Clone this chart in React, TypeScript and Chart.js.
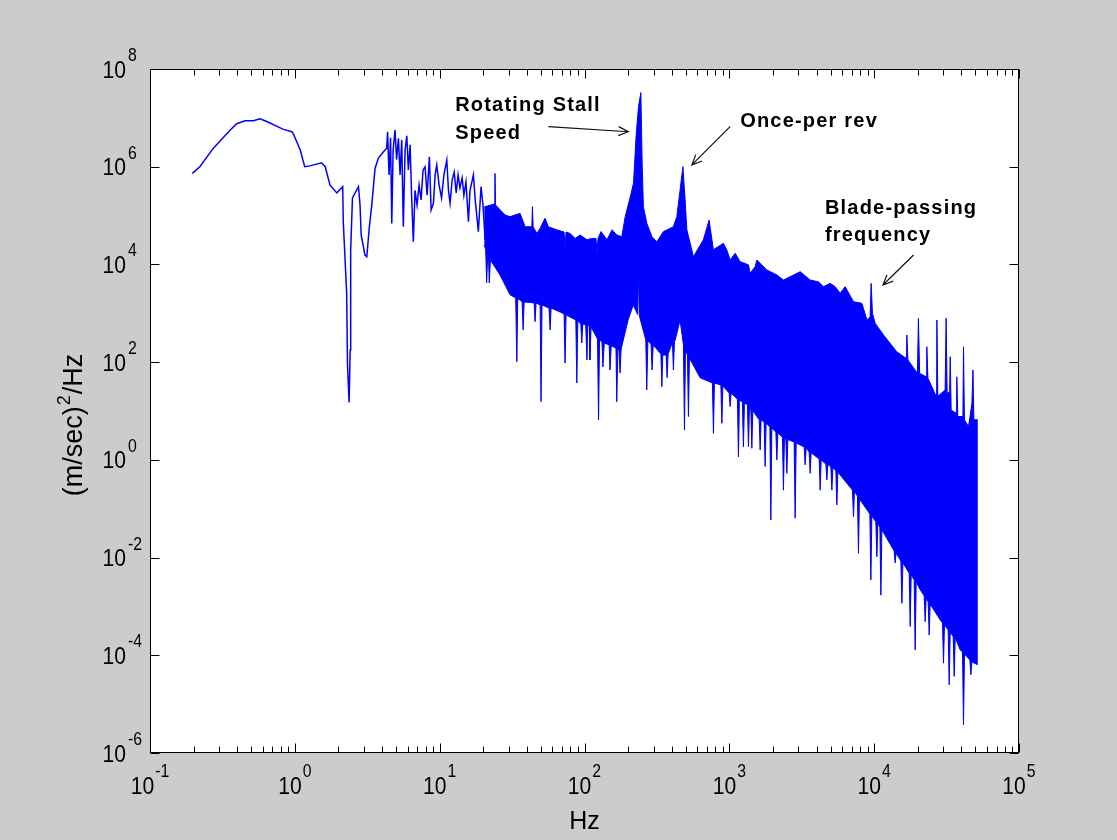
import React, { useEffect, useRef } from "react";
import { Chart, registerables } from "chart.js";

Chart.register(...registerables);

// ---- Low-frequency trace (Hz, (m/sec)^2/Hz) ----
const lowHz = [
  0.196, 0.221, 0.274, 0.357, 0.397, 0.453, 0.517, 0.575, 0.64, 0.834,
  0.953, 0.977, 1.09, 1.17, 1.27, 1.53, 1.62, 1.75, 1.95, 2.05,
  2.14, 2.16, 2.28, 2.31, 2.37, 2.41, 2.43, 2.5, 2.75, 2.82,
  2.87, 3.05, 3.14, 3.27, 3.4, 3.58, 3.78, 4.08, 4.31, 4.37,
  4.47, 4.58, 4.67, 4.77, 4.92, 5.04, 5.19, 5.33, 5.47, 5.61,
  5.77, 5.93, 6.08, 6.25, 6.4, 6.58, 6.76, 6.98, 7.21, 7.44,
  7.68, 7.93, 8.19, 8.49, 8.73, 9.06, 9.3, 9.55, 9.91, 10.3,
  10.7, 11.2, 11.5, 11.8, 12.2, 12.6, 13.0, 13.4, 13.8, 14.3,
  14.7, 15.2, 15.8, 16.2, 17.1, 17.6, 18.5, 19.3, 19.9, 20.6,
];
const lowPsd = [
  7.3e5, 1.0e6, 2.4e6, 5.6e6, 7.6e6, 8.7e6, 8.7e6, 9.6e6, 8.4e6, 5.8e6,
  5.2e6, 4.7e6, 2.2e6, 1.0e6, 1.04e6, 1.2e6, 1.0e6, 4.2e5, 2.9e5, 3.4e5,
  3.9e5, 7.5e4, 2.6e3, 87, 15, 178, 2.0e4, 2.3e5, 3.9e5, 1.65e5,
  4.0e4, 1.55e4, 1.44e4, 5.9e4, 1.65e5, 9.3e5, 1.5e6, 2.0e6, 2.4e6, 5.2e6,
  6.8e5, 3.9e6, 6.9e4, 2.2e6, 5.6e6, 1.4e6, 3.8e6, 6.8e5, 3.5e6, 5.9e4,
  2.2e6, 4.3e6, 8.6e5, 2.8e6, 2.6e5, 2.9e4, 3.3e5, 1.65e5, 4.2e5, 2.1e5,
  8.6e5, 1.0e6, 2.6e5, 1.6e6, 1.3e5, 1.8e5, 6.8e5, 1.09e6, 4.2e5, 2.3e5,
  6.8e5, 1.37e6, 3.3e5, 1.8e5, 5.4e5, 7.8e5, 2.9e5, 6.8e5, 3.7e5, 5.9e5,
  2.6e5, 4.9e5, 7.5e4, 3.3e5, 6.8e5, 2.1e5, 4.7e4, 3.9e5, 1.65e5, 3.2e4,
];

// ---- Dense band: upper edge ----
const upperHz = [
  20.3, 23.9, 24.1, 24.3, 28.3, 30.6, 35.9, 38.9, 43.3, 43.7,
  44.2, 46.9, 49.4, 53.4, 56.3, 64.4, 72.3, 73.4, 74.6, 79.6,
  86.1, 93.3, 104, 112, 120, 122, 124, 130, 143, 155,
  167, 181, 191, 207, 218, 227, 236, 245, 250, 255,
  269, 292, 316, 351, 411, 434, 457, 478, 495, 509,
  565, 662, 725, 776, 910, 961, 1013, 1097, 1187, 1355,
  1392, 1507, 1549, 1816, 2128, 2364, 2630, 3083, 3614, 4125,
  4465, 4966, 5379, 5826, 6306, 7197, 8226, 8913, 9376, 9530,
  9730, 10160, 11600, 14300, 16600, 16800, 17100, 19900, 20200, 20600,
  22900, 23100, 23500, 26800, 27100, 27500, 30900, 31400, 31900, 33200,
  33500, 34000, 36800, 37200, 37800, 41000, 41400, 42000, 44800, 47300,
  48100, 48800, 52000,
];
const upperPsd = [
  1.5e5, 1.73e5, 7.3e5, 1.65e5, 1.03e5, 9.5e4, 1.11e5, 5.9e4, 5.9e4, 1.52e5,
  5.9e4, 4.3e4, 5.5e4, 8.8e4, 5.9e4, 5.1e4, 4.6e4, 2.1e4, 4.6e4, 4.3e4,
  3.4e4, 4.0e4, 3.2e4, 3.4e4, 3.4e4, 1.7e4, 3.4e4, 4.7e4, 3.2e4, 5.1e4,
  4.0e4, 3.7e4, 9.5e4, 2.4e5, 4.6e5, 4.1e6, 1.7e7, 3.3e7, 1.18e6, 1.52e5,
  7.0e4, 3.7e4, 2.9e4, 4.7e4, 5.9e4, 9.5e4, 3.3e5, 1.0e6, 2.1e5, 5.1e4,
  1.44e4, 3.2e4, 8.1e4, 2.0e4, 2.7e4, 1.98e4, 1.23e4, 1.69e4, 1.14e4, 9.8e3,
  6.6e3, 9.0e3, 1.23e4, 7.7e3, 6.1e3, 4.8e3, 5.6e3, 7.1e3, 4.8e3, 4.4e3,
  3.5e3, 4.1e3, 3.5e3, 2.57e3, 3.5e3, 1.73e3, 1.6e3, 730, 853, 4.1e3,
  1.0e3, 625, 360, 164, 120, 360, 111, 59, 791, 59,
  50, 207, 47, 20, 730, 20, 27, 791, 23, 24.5,
  129, 10.5, 9.0, 50, 7.7, 7.7, 207, 6.6, 4.8, 14,
  69, 6.6, 6.6,
];

// ---- Dense band: lower edge ----
const lowerHz = [
  20.3, 20.8, 21.1, 21.5, 21.7, 22.0, 22.4, 26.1, 30.6, 33.5,
  34.1, 34.6, 35.9, 37.1, 37.7, 38.3, 44.9, 45.6, 46.3, 49.4,
  50.1, 50.9, 56.9, 57.9, 58.8, 67.9, 72.3, 73.4, 74.6, 87.1,
  88.5, 89.9, 94.3, 95.8, 97.3, 102, 104, 105.4, 108, 109,
  111, 123, 125, 127, 132, 134, 137, 148, 150, 153,
  165, 167, 170, 173, 176, 179, 200, 217, 232.6, 235.6,
  239, 265, 269, 274, 288, 293, 298, 337, 342, 347,
  366, 372, 378, 405, 411, 418, 423, 457, 482, 490,
  498, 514, 522, 530, 628, 764, 777, 789, 874, 888,
  902, 997, 1013, 1029, 1137, 1156, 1174, 1231, 1251, 1272,
  1334, 1355, 1377, 1408, 1430, 1453, 1607, 1632, 1658, 1739,
  1767, 1795, 1905, 1935, 1966, 2095, 2128, 2162, 2243, 2327,
  2364, 2402, 2456, 2495, 2535, 2803, 2847, 2893, 3285, 3338,
  3391, 3557, 3614, 3672, 4172, 4238, 4306, 4640, 4714, 4788,
  5023, 5104, 5186, 5439, 5526, 5615, 5826, 7084, 7197, 7311,
  7667, 7790, 7915, 8003, 9340, 9489, 9641, 10270, 10440, 10600,
  10950, 11130, 11300, 13740, 13960, 14190, 15290, 15540, 15790, 17450,
  17730, 18010, 18890, 19190, 19500, 20780, 22150, 22500, 22860, 23600,
  23980, 24360, 28570, 29630, 30110, 30590, 32430, 32960, 33490, 35130,
  35690, 36260, 39260, 40730, 41380, 42040, 45800, 46540, 47290, 52000,
];
const lowerPsd = [
  2.5e4, 2.0e4, 4.2e3, 1.8e4, 1.64e4, 4.2e3, 1.23e4, 6.1e3, 2.4e3, 2.06e3,
  102, 1.96e3, 1.87e3, 1.71e3, 456, 1.71e3, 1.63e3, 673, 1.63e3, 1.48e3,
  15.5, 1.48e3, 1.28e3, 456, 1.28e3, 1.06e3, 968, 96, 924, 730,
  37.5, 697, 600, 247, 600, 577, 111, 577, 550, 111,
  525, 298, 6.6, 284, 259, 80, 247, 225, 69, 214,
  195, 15.5, 186, 178, 60, 186, 730, 1.48e3, 950, 7.7e3,
  900, 284, 27, 271, 236, 69, 225, 147, 31.5, 140,
  140, 48, 147, 255, 69, 270, 284, 730, 225, 4.1,
  178, 140, 7.7, 122, 48, 37.5, 3.5, 37.5, 34, 5.6,
  32.5, 23.4, 12.3, 23, 17.6, 1.16, 16.8, 15.3, 1.86, 14.8,
  13.3, 1.86, 12.7, 10.5, 1.73, 10.2, 6.6, 1.6, 6.6, 5.97,
  0.73, 5.7, 4.7, 0.059, 4.5, 3.7, 1.0, 3.6, 3.2, 2.94,
  0.24, 2.8, 2.68, 0.53, 2.6, 2.32, 0.064, 2.22, 1.84, 0.79,
  1.75, 1.45, 0.53, 1.4, 1.04, 0.24, 0.995, 0.82, 0.39, 0.8,
  0.72, 0.24, 0.69, 0.6, 0.12, 0.56, 0.49, 0.24, 0.069, 0.23,
  0.18, 0.0123, 0.174, 0.151, 0.078, 0.0035, 0.071, 0.054, 0.0104, 0.049,
  0.042, 0.0017, 0.037, 0.0137, 0.0078, 0.0124, 0.0085, 0.00116, 0.0078, 0.0048,
  3.9e-4, 0.0044, 0.0035, 1.29e-4, 0.0032, 0.0022, 0.00164, 4.9e-4, 0.00149, 0.00124,
  2.6e-4, 0.00112, 5.3e-4, 4.6e-4, 6.9e-5, 4.2e-4, 3.3e-4, 2.5e-5, 3.0e-4, 2.4e-4,
  3.7e-5, 2.3e-4, 1.29e-4, 1.17e-4, 3.8e-6, 1.06e-4, 8.0e-5, 4.0e-5, 7.3e-5, 6.4e-5,
];

// ---- Axes ----
const xTickExponents = [-1, 0, 1, 2, 3, 4, 5];
const yTickExponents = [-6, -4, -2, 0, 2, 4, 6, 8];
const xAxisTitle = "Hz";
const yAxisTitleParts = ["(m/sec)", "2", "/Hz"];

// ---- Annotations (positions in data units) ----
const annotations = [
  { lines: ["Rotating Stall", "Speed"], textHz: 12.8, textPsd: 1.38e7, fromHz: 56.3, fromPsd: 6.6e6, toHz: 201, toPsd: 5.2e6 },
  { lines: ["Once-per rev"], textHz: 1188, textPsd: 6.5e6, fromHz: 1013, fromPsd: 6.6e6, toHz: 551, toPsd: 1.09e6 },
  { lines: ["Blade-passing", "frequency"], textHz: 4571, textPsd: 1.08e5, fromHz: 1.87e4, fromPsd: 1.56e4, toHz: 1.15e4, toPsd: 3.8e3 },
];

const BLUE = "#0000ff";
const FONT = '"Liberation Sans", Arial, Helvetica, sans-serif';

function pair(xs: number[], ys: number[]) {
  return xs.map((x, i) => ({ x, y: ys[i] }));
}

function drawScaled(ctx: CanvasRenderingContext2D, text: string, x: number, y: number, sx: number) {
  ctx.save();
  ctx.translate(x, y);
  ctx.scale(sx, 1);
  ctx.fillText(text, 0, 0);
  ctx.restore();
}

const matlabFrame = {
  id: "matlabFrame",
  beforeDraw(chart: any) {
    const { ctx, chartArea: a, width, height } = chart;
    ctx.save();
    ctx.fillStyle = "#cccccc";
    ctx.fillRect(0, 0, width, height);
    ctx.fillStyle = "#ffffff";
    ctx.fillRect(a.left, a.top, a.right - a.left, a.bottom - a.top);
    ctx.restore();
  },
  afterDraw(chart: any) {
    const { ctx, chartArea: a } = chart;
    const xs = chart.scales.x;
    const ys = chart.scales.y;
    ctx.save();
    ctx.strokeStyle = "#000";
    ctx.lineWidth = 1;
    const L = Math.round(a.left) + 0.5;
    const R = Math.round(a.right) - 0.5;
    const T = Math.round(a.top) + 0.5;
    const B = Math.round(a.bottom) - 0.5;
    ctx.strokeRect(L, T, R - L, B - T);

    ctx.beginPath();
    xTickExponents.forEach((e, i) => {
      const px = Math.round(xs.getPixelForValue(Math.pow(10, e))) + 0.5;
      ctx.moveTo(px, B); ctx.lineTo(px, B - 9);
      ctx.moveTo(px, T); ctx.lineTo(px, T + 9);
      if (i < xTickExponents.length - 1) {
        for (let m = 2; m <= 9; m++) {
          const mx = Math.round(xs.getPixelForValue(m * Math.pow(10, e))) + 0.5;
          ctx.moveTo(mx, B); ctx.lineTo(mx, B - 6);
          ctx.moveTo(mx, T); ctx.lineTo(mx, T + 6);
        }
      }
    });
    yTickExponents.forEach((e) => {
      const py = Math.round(ys.getPixelForValue(Math.pow(10, e))) + 0.5;
      ctx.moveTo(L, py); ctx.lineTo(L + 9, py);
      ctx.moveTo(R, py); ctx.lineTo(R - 9, py);
    });
    ctx.stroke();

    // tick labels
    const SX = 0.88;
    const baseFont = `24px ${FONT}`;
    const supFont = `18px ${FONT}`;
    ctx.fillStyle = "#000";
    ctx.textAlign = "left";
    ctx.textBaseline = "alphabetic";
    ctx.font = baseFont;
    const bw = ctx.measureText("10").width * SX;
    xTickExponents.forEach((e) => {
      const px = xs.getPixelForValue(Math.pow(10, e));
      const es = String(e);
      ctx.font = supFont;
      const ew = ctx.measureText(es).width * SX;
      const start = px - (bw + ew + 1) / 2;
      ctx.font = baseFont;
      drawScaled(ctx, "10", start, a.bottom + 41, SX);
      ctx.font = supFont;
      drawScaled(ctx, es, start + bw + 1, a.bottom + 24, SX);
    });
    yTickExponents.forEach((e) => {
      const py = ys.getPixelForValue(Math.pow(10, e));
      const es = String(e);
      ctx.font = baseFont;
      drawScaled(ctx, "10", a.left - 24 - bw, py + 8.5, SX);
      ctx.font = supFont;
      drawScaled(ctx, es, a.left - 22, py - 8, SX);
    });

    // axis titles
    ctx.font = `25px ${FONT}`;
    ctx.textAlign = "center";
    ctx.fillText(xAxisTitle, (a.left + a.right) / 2, a.bottom + 76);

    ctx.save();
    ctx.translate(75, (a.top + a.bottom) / 2 + 14);
    ctx.rotate(-Math.PI / 2);
    ctx.textAlign = "left";
    ctx.textBaseline = "middle";
    const mainFont = `27px ${FONT}`;
    const smallFont = `18px ${FONT}`;
    ctx.font = mainFont;
    const w0 = ctx.measureText(yAxisTitleParts[0]).width;
    const w2 = ctx.measureText(yAxisTitleParts[2]).width;
    ctx.font = smallFont;
    const w1 = ctx.measureText(yAxisTitleParts[1]).width;
    let cx = -(w0 + w1 + w2 + 2) / 2;
    ctx.font = mainFont;
    ctx.fillText(yAxisTitleParts[0], cx, 0);
    cx += w0 + 1;
    ctx.font = smallFont;
    ctx.fillText(yAxisTitleParts[1], cx, -10);
    cx += w1 + 1;
    ctx.font = mainFont;
    ctx.fillText(yAxisTitleParts[2], cx, 0);
    ctx.restore();

    // annotations
    annotations.forEach((an) => {
      const tx = xs.getPixelForValue(an.textHz);
      const ty = ys.getPixelForValue(an.textPsd);
      ctx.font = `bold 20px ${FONT}`;
      (ctx as any).letterSpacing = "1.2px";
      ctx.textAlign = "left";
      ctx.textBaseline = "alphabetic";
      an.lines.forEach((t, i) => ctx.fillText(t, tx, ty + i * 27.5));
      (ctx as any).letterSpacing = "0px";
      const fx = xs.getPixelForValue(an.fromHz);
      const fy = ys.getPixelForValue(an.fromPsd);
      const hx = xs.getPixelForValue(an.toHz);
      const hy = ys.getPixelForValue(an.toPsd);
      const ang = Math.atan2(hy - fy, hx - fx);
      ctx.strokeStyle = "#111";
      ctx.lineWidth = 1.2;
      ctx.beginPath();
      ctx.moveTo(fx, fy);
      ctx.lineTo(hx, hy);
      ctx.moveTo(hx - 11 * Math.cos(ang - 0.42), hy - 11 * Math.sin(ang - 0.42));
      ctx.lineTo(hx, hy);
      ctx.lineTo(hx - 11 * Math.cos(ang + 0.42), hy - 11 * Math.sin(ang + 0.42));
      ctx.stroke();
    });
    ctx.restore();
  },
};

export default function App() {
  const ref = useRef<HTMLCanvasElement>(null);
  useEffect(() => {
    const chart = new Chart(ref.current as HTMLCanvasElement, {
      type: "line",
      data: {
        datasets: [
          {
            label: "upper",
            data: pair(upperHz, upperPsd),
            borderColor: BLUE,
            borderWidth: 1,
            pointRadius: 0,
            fill: false,
            tension: 0,
          },
          {
            label: "lower",
            data: pair(lowerHz, lowerPsd),
            borderColor: BLUE,
            backgroundColor: BLUE,
            borderWidth: 1,
            pointRadius: 0,
            fill: "-1",
            tension: 0,
          },
          {
            label: "low",
            data: pair(lowHz, lowPsd),
            borderColor: BLUE,
            borderWidth: 1.5,
            pointRadius: 0,
            fill: false,
            tension: 0,
          },
        ],
      } as any,
      options: {
        animation: false,
        responsive: false,
        devicePixelRatio: 1,
        events: [],
        layout: { padding: { left: 150, top: 69, right: 98, bottom: 87 } },
        plugins: { legend: { display: false }, tooltip: { enabled: false } },
        scales: {
          x: { type: "logarithmic", min: 0.1, max: 1e5, display: false },
          y: { type: "logarithmic", min: 1e-6, max: 1e8, display: false },
        },
      } as any,
      plugins: [matlabFrame],
    });
    return () => chart.destroy();
  }, []);
  return (
    <div style={{ position: "fixed", left: 0, top: 0, width: 1117, height: 840, background: "#cccccc" }}>
      <canvas ref={ref} width={1117} height={840} style={{ display: "block", width: 1117, height: 840 }} />
    </div>
  );
}
